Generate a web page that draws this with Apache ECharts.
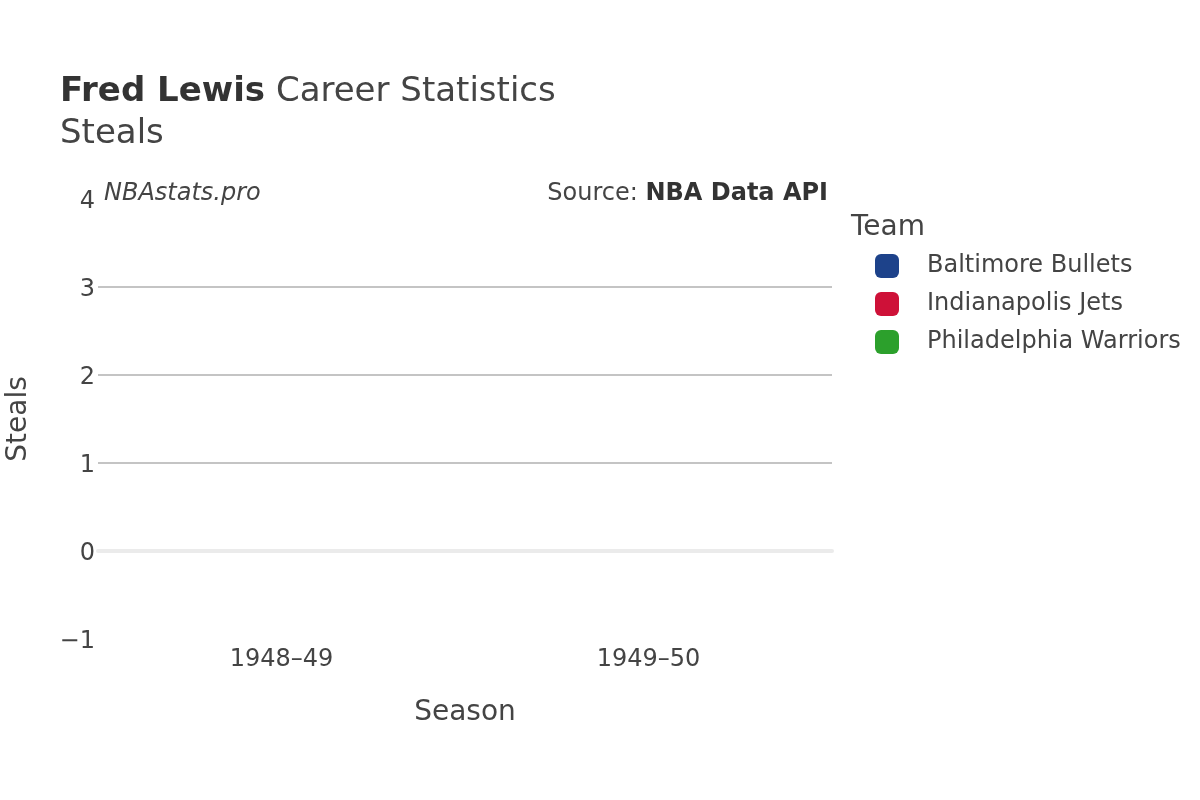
<!DOCTYPE html>
<html>
<head>
<meta charset="utf-8">
<script src="https://cdn.jsdelivr.net/npm/echarts@6/dist/echarts.min.js"></script>
<style>html,body{margin:0;padding:0;background:#fff}#c{width:1200px;height:800px}</style>
</head>
<body>
<div id="c"></div>
<script>
const seasons = ['1948\u201349', '1949\u201350'];
const teams = ['Baltimore Bullets', 'Indianapolis Jets', 'Philadelphia Warriors'];
const teamColors = ['#1d428a', '#ce1138', '#2ca02c'];
const baltimoreSteals = [0, 0];
const indianapolisSteals = [0, null];
const philadelphiaSteals = [null, 0];
const yTicks = [-1, 0, 1, 2, 3, 4];

const FONT = 'DejaVu Sans';
const seriesValues = [baltimoreSteals, indianapolisSteals, philadelphiaSteals];
const chart = echarts.init(document.getElementById('c'));
chart.setOption({
  animation: false,
  textStyle: { fontFamily: FONT, color: '#444' },
  title: [{
    text: '{b|Fred Lewis} {n|Career Statistics}',
    left: 55, top: 70,
    textStyle: { fontWeight: 'normal', fontSize: 34, fontFamily: FONT, rich: {
      b: { fontFamily: FONT, fontWeight: 'bold', fontSize: 34, color: '#333' },
      n: { fontFamily: FONT, fontWeight: 'normal', fontSize: 34, color: '#444' }
    } }
  }, {
    text: 'Steals', left: 55, top: 112,
    textStyle: { fontFamily: FONT, fontSize: 34, fontWeight: 'normal', color: '#444' }
  }],
  legend: {
    orient: 'vertical', left: 870, top: 249,
    itemWidth: 24, itemHeight: 24, itemGap: 14, icon: 'roundRect',
    data: teams,
    textStyle: { fontFamily: FONT, fontSize: 24, color: '#444', padding: [0, 0, 0, 23] }
  },
  grid: { left: 98, right: 368, top: 199, bottom: 161, containLabel: false, outerBoundsMode: 'none' },
  xAxis: {
    type: 'category', data: seasons,
    axisLine: { show: true, onZero: true, lineStyle: { color: '#ebebeb', width: 4 } },
    axisTick: { show: false },
    axisLabel: { fontFamily: FONT, fontSize: 24, color: '#444', margin: 9 },
    name: 'Season', nameLocation: 'middle', nameGap: 60,
    nameTextStyle: { fontFamily: FONT, fontSize: 28, color: '#444' }
  },
  yAxis: {
    type: 'value', min: yTicks[0], max: yTicks[yTicks.length - 1], interval: 1,
    axisLine: { show: false }, axisTick: { show: false },
    axisLabel: {
      fontFamily: FONT, fontSize: 24, color: '#444', margin: 3,
      formatter: v => '{t|' + (v < 0 ? '\u2212' + Math.abs(v) : String(v)) + '}',
      rich: { t: { fontFamily: FONT, fontSize: 24, color: '#444', padding: [6, 0, 0, 0] } }
    },
    splitLine: { show: true, lineStyle: { color: ['rgba(0,0,0,0)', 'rgba(0,0,0,0)', '#c4c4c4', '#c4c4c4', '#c4c4c4', 'rgba(0,0,0,0)'], width: 2 } },
    name: 'Steals', nameLocation: 'middle', nameGap: 65, nameRotate: 90,
    nameTextStyle: { fontFamily: FONT, fontSize: 28, color: '#444' }
  },
  graphic: [
    { type: 'text', left: 104, top: 182, style: { text: 'NBAstats.pro', font: 'italic 24px "DejaVu Sans"', fill: '#444' } },
    { type: 'text', right: 372, top: 182, style: { text: '{a|Source: }{b|NBA Data API}', rich: {
      a: { fontFamily: FONT, fontSize: 24, fill: '#444', color: '#444' },
      b: { fontFamily: FONT, fontSize: 24, fontWeight: 'bold', fill: '#333', color: '#333' }
    } } },
    { type: 'text', left: 851, top: 214, style: { text: 'Team', font: '28px "DejaVu Sans"', fill: '#444' } }
  ],
  series: teams.map((t, i) => ({
    name: t, type: 'bar', data: seriesValues[i],
    itemStyle: { color: teamColors[i] }
  }))
});
</script>
</body>
</html>
